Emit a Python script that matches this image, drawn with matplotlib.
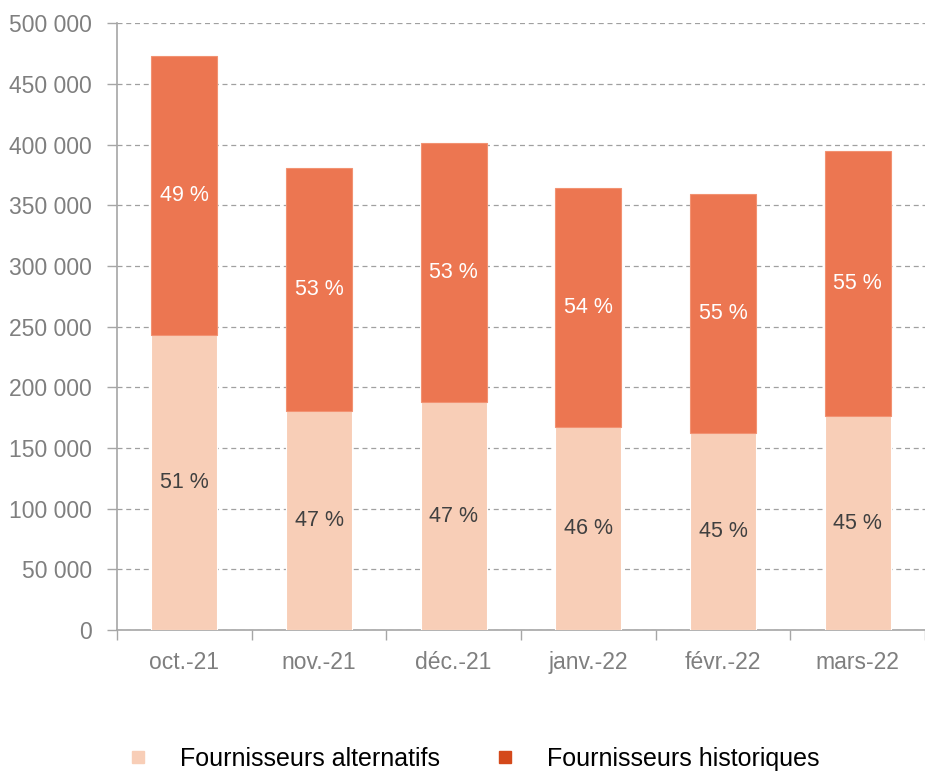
import numpy as np
import matplotlib.pyplot as plt
from matplotlib.ticker import FuncFormatter
from matplotlib.lines import Line2D

# Données
mois = ['oct.-21', 'nov.-21', 'déc.-21', 'janv.-22', 'févr.-22', 'mars-22']
alternatifs = [243000, 180400, 187800, 167200, 162300, 176300]
historiques = [229800, 200200, 213400, 196900, 196800, 218300]

c_alt = '#F8CEB7'
c_hist = '#EC7651'
c_hist_leg = '#D4491B'

plt.rcParams['font.family'] = ['Liberation Sans', 'DejaVu Sans']

fig = plt.figure(figsize=(9.25, 7.76), dpi=100)
ax = fig.add_axes([0.1265, 0.188, 0.8735, 0.782])

x = np.arange(len(mois))
alt = np.array(alternatifs)
hist = np.array(historiques)
total = alt + hist

ax.bar(x, alt, width=0.49, color=c_alt, edgecolor='white', linewidth=0.8, zorder=3)
ax.bar(x, hist, width=0.49, bottom=alt, color=c_hist, edgecolor='#F29272', linewidth=0.8, zorder=3)

# Étiquettes en %
for i in range(len(mois)):
    p_alt = round(100 * alt[i] / total[i])
    p_hist = round(100 * hist[i] / total[i])
    ax.text(x[i], alt[i] / 2, f'{p_alt} %', ha='center', va='center',
            color='#404040', fontsize=15.5, zorder=4)
    ax.text(x[i], alt[i] + hist[i] / 2, f'{p_hist} %', ha='center', va='center',
            color='white', fontsize=15.5, zorder=4)

ax.set_xlim(-0.5, 5.5)
ax.set_ylim(0, 500000)
ax.set_yticks(np.arange(0, 500001, 50000))
ax.yaxis.set_major_formatter(FuncFormatter(lambda v, p: f'{int(v):,}'.replace(',', ' ')))

ax.set_xticks(x)
ax.set_xticklabels(mois)
ax.set_xticks(np.arange(-0.5, 6, 1), minor=True)
ax.tick_params(axis='x', which='major', length=0, pad=15, labelsize=16.5, labelcolor='#7F7F7F')
ax.tick_params(axis='x', which='minor', length=7, color='#A6A6A6', width=1)
ax.tick_params(axis='y', length=7, color='#A6A6A6', width=1, labelsize=16.5, labelcolor='#7F7F7F', pad=11)

ax.grid(axis='y', linestyle=(0, (4, 3)), color='#A0A0A0', linewidth=0.9, zorder=0)
for s in ['top', 'right']:
    ax.spines[s].set_visible(False)
for s in ['left', 'bottom']:
    ax.spines[s].set_color('#A6A6A6')
    ax.spines[s].set_linewidth(1.2)

# Légende
handles = [
    Line2D([], [], marker='s', linestyle='none', markersize=9, color=c_alt, label='Fournisseurs alternatifs'),
    Line2D([], [], marker='s', linestyle='none', markersize=9, color=c_hist_leg, label='Fournisseurs historiques'),
]
fig.legend(handles=handles, loc='center', bbox_to_anchor=(0.511, 0.022), ncol=2, frameon=False,
           prop={'family': 'Liberation Sans', 'size': 18},
           handlelength=1.0, handletextpad=1.18, columnspacing=2.1)

fig.savefig('out.png', dpi=100)
